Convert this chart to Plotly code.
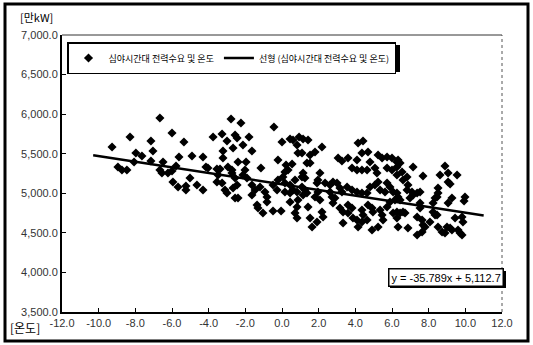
import plotly.graph_objects as go

# Night-time power demand [만kW] vs temperature [°C]
temperature = [
    -9.27, -8.29, -6.66, -7.15, -7.04, -7.97, -7.64, -8.95, -8.73, -8.46,
    -6.00, -5.35, -5.62, -4.91, -4.31, -6.66, -6.55, -6.22, -6.00, -5.95,
    -5.67, -5.24, -5.24, -5.02, -4.64, -4.31, -8.07, -7.15, -6.49, -5.78,
    -2.78, -2.24, -0.44, -3.76, -3.27, -2.56, -2.45, -3.00, -1.80, -2.13,
    -2.67, -3.22, -1.64, 0.00, 0.44, 0.60, -3.22, -2.40, -1.96, -0.22,
    0.22, 0.55, -1.15, -4.15, -4.04, -3.55, -3.38, -2.95, -2.73, -2.73,
    -2.02, -2.13, -1.91, -3.49, -3.55, -3.27, -2.56, -2.45, -2.67, -3.11,
    -3.00, -2.56, -2.40, -1.64, -1.47, -1.64, -1.20, -0.93, -0.82, -0.49,
    -0.27, -0.22, 0.05, 0.16, -1.36, -1.31, -1.04, -0.49, -0.05, -0.82,
    0.16, 0.44, 0.44, 0.16, 0.33,
    0.93, 1.15, 1.42, 0.82, 1.09, 0.87, 1.80, 1.53, 2.18, 1.36,
    1.53, 4.15, 4.42, 3.06, 3.27, 3.60, 4.36, 4.69, 4.09, 4.80,
    5.24, 5.46, 5.73, 6.00, 6.27, 3.82, 4.09, 4.36, 4.64, 5.07,
    5.18, 5.73, 6.00, 6.27, 1.15, 1.25, 1.09, 2.07, 1.96, 1.91,
    0.71, 0.44, 0.60, 0.82, 1.09, 1.25, 1.36, 1.15, 2.35, 2.62,
    2.78, 3.00, 3.16, 3.27, 2.62, 2.73, 2.89, 2.78, 3.55, 3.82,
    4.09, 4.36, 4.64, 4.80, 5.07, 5.24, 5.35, 5.62, 5.73, 5.89,
    6.06, 6.27, 0.87, 0.82, 0.71, 0.82, 1.42, 1.53, 1.64, 1.91,
    2.18, 2.24, 2.07, 3.16, 3.33, 3.33, 3.60, 3.82, 3.60, 3.87,
    4.09, 4.15, 4.36, 4.42, 4.64, 4.69, 4.91, 4.96, 4.36, 4.91,
    5.35, 5.46, 5.51, 5.24, 5.73, 5.89, 6.06, 6.27, 1.96, 1.80,
    6.33, 6.27, 6.55, 6.44, 7.15, 7.69, 6.60, 6.82, 6.87, 8.89,
    9.06, 9.55, 8.62, 9.06, 9.17, 8.51, 8.51, 8.46, 6.82, 7.09,
    7.15, 7.37, 7.53, 6.98, 6.33, 6.16, 6.44, 7.53, 7.53, 8.35,
    8.24, 9.27, 9.06, 9.98, 9.93, 6.27, 6.44, 6.60, 6.71, 7.37,
    7.64, 7.69, 7.80, 8.07, 8.24, 8.35, 8.46, 9.44, 9.82, 9.87,
    6.33, 6.87, 7.37, 7.64, 8.51, 8.73, 8.89, 9.00, 9.17, 9.27,
    9.60, 9.71, 9.82,
]
demand = [
    5585, 5711, 5951, 5660, 5534, 5509, 5471, 5332, 5294, 5294,
    5762, 5648, 5458, 5471, 5458, 5294, 5256, 5256, 5281, 5142,
    5079, 5092, 5041, 5193, 5105, 5041, 5395, 5408, 5395, 5345,
    5938, 5888, 5837, 5711, 5749, 5736, 5698, 5660, 5711, 5610,
    5572, 5534, 5534, 5648, 5686, 5673, 5446, 5395, 5395, 5420,
    5357, 5370, 5319, 5332, 5319, 5307, 5307, 5332, 5294, 5256,
    5294, 5231, 5193, 5231, 5142, 5130, 5193, 5105, 5067, 5041,
    5003, 4940, 4940, 5105, 5041, 4978, 5079, 5016, 4953, 5105,
    5041, 5168, 5206, 5130, 4852, 4814, 4751, 4776, 4776, 4890,
    5016, 5003, 4890, 5269, 5294,
    5711, 5686, 5673, 5610, 5509, 5509, 5521, 5484, 5585, 5382,
    5382, 5635, 5660, 5446, 5408, 5446, 5509, 5521, 5420, 5395,
    5484, 5446, 5458, 5446, 5395, 5319, 5294, 5294, 5294, 5319,
    5256, 5319, 5294, 5231, 5256, 5193, 5206, 5256, 5168, 5130,
    5168, 5105, 5041, 5016, 5079, 5041, 5003, 4978, 5130, 5105,
    5142, 5130, 5067, 5016, 5016, 4953, 4940, 4877, 5079, 5041,
    5016, 5003, 5003, 5079, 5105, 5142, 5041, 5016, 5130, 5079,
    5016, 5003, 4915, 4827, 4751, 4688, 4827, 4688, 4574, 4637,
    4763, 4700, 4915, 4814, 4763, 4624, 4852, 4814, 4751, 4688,
    4662, 4574, 4789, 4725, 4662, 4852, 4814, 4763, 4637, 4536,
    4789, 4725, 4662, 4574, 4827, 4890, 4751, 4688, 5016, 4953,
    5420, 5332, 5269, 5382, 5332, 5218, 5168, 5206, 5105, 5345,
    5256, 5231, 5231, 5142, 5117, 5067, 5003, 4953, 5041, 5016,
    4978, 5003, 5016, 4940, 4953, 4915, 4915, 4877, 4814, 4940,
    4877, 4940, 4877, 4953, 4902, 4763, 4751, 4763, 4751, 4700,
    4662, 4599, 4574, 4637, 4763, 4725, 4725, 4688, 4700, 4637,
    4574, 4561, 4473, 4511, 4574, 4511, 4498, 4574, 4561, 4536,
    4536, 4498, 4473,
]

# Linear trendline (as displayed): y = -35.789x + 5,112.7
trend_slope = -35.789
trend_intercept = 5112.7
trend_x = [-10.3, 11.0]
trend_y = [trend_slope * t + trend_intercept for t in trend_x]

y_ticks = [3500, 4000, 4500, 5000, 5500, 6000, 6500, 7000]
x_ticks = [-12, -10, -8, -6, -4, -2, 0, 2, 4, 6, 8, 10, 12]

scatter_name = "심야시간대 전력수요 및 온도"
trend_name = "선형 (심야시간대 전력수요 및 온도)"
equation_text = "y = -35.789x + 5,112.7"

FONT = "Arial, Liberation Sans, Noto Sans CJK KR, sans-serif"
KFONT = "Noto Sans CJK KR, sans-serif"

# plot-area geometry (px) used to place paper-referenced decorations
L, R, T, B, W, H = 62, 31, 35, 33, 533, 345
PW, PH = W - L - R, H - T - B


def px_x(p):
    return (p - L) / PW


def px_y(p):
    return (H - B - p) / PH


fig = go.Figure()
fig.add_trace(go.Scatter(
    x=temperature, y=demand, mode="markers", name=scatter_name,
    marker=dict(symbol="diamond", size=7, color="black"),
))
fig.add_trace(go.Scatter(
    x=trend_x, y=trend_y, mode="lines", name=trend_name,
    line=dict(color="black", width=2.5),
))

fig.update_layout(
    width=W, height=H,
    margin=dict(l=L, r=R, t=T, b=B),
    paper_bgcolor="white", plot_bgcolor="white",
    font=dict(family=FONT, size=11, color="#222"),
    showlegend=True,
    legend=dict(
        orientation="h", x=px_x(67), y=px_y(42), xanchor="left", yanchor="top",
        bordercolor="black", borderwidth=1.5, bgcolor="white",
        font=dict(family=KFONT, size=9, color="black"),
        itemwidth=30, tracegroupgap=0,
    ),
    xaxis=dict(
        range=[-12, 12], tickvals=x_ticks,
        ticktext=[f"{v:.1f}" for v in x_ticks],
        showgrid=False, zeroline=False,
        showline=True, linecolor="black", linewidth=2,
        ticks="inside", ticklen=4, tickcolor="black",
        tickfont=dict(size=11, color="#333"),
    ),
    yaxis=dict(
        range=[3500, 7000], tickvals=y_ticks,
        ticktext=[f"{v:,.1f}" for v in y_ticks],
        showgrid=False, zeroline=False,
        showline=True, linecolor="black", linewidth=2,
        ticks="inside", ticklen=4, tickcolor="black",
        tickfont=dict(size=11, color="#333"),
    ),
    shapes=[
        # outer chart border
        dict(type="rect", xref="paper", yref="paper",
             x0=px_x(5), x1=px_x(528), y0=px_y(341), y1=px_y(4),
             line=dict(color="black", width=3)),
        # plot area top and right border
        dict(type="line", xref="paper", yref="paper", x0=0, x1=1, y0=1, y1=1,
             line=dict(color="#333", width=1)),
        dict(type="line", xref="paper", yref="paper", x0=1, x1=1, y0=0, y1=1,
             line=dict(color="#555", width=1, dash="dot")),
        # legend drop shadow
        dict(type="rect", xref="paper", yref="paper", layer="above",
             x0=px_x(70), x1=px_x(400), y0=px_y(72), y1=px_y(45),
             fillcolor="black", line=dict(width=0)),
        # equation box drop shadow
        dict(type="rect", xref="paper", yref="paper", layer="above",
             x0=px_x(390), x1=px_x(506), y0=px_y(288), y1=px_y(271),
             fillcolor="black", line=dict(width=0)),
    ],
    annotations=[
        dict(text="[만kW]", xref="paper", yref="paper", x=px_x(18), y=px_y(17),
             xanchor="left", yanchor="middle", showarrow=False,
             font=dict(family=KFONT, size=11, color="black")),
        dict(text="[온도]", xref="paper", yref="paper", x=px_x(8), y=px_y(327),
             xanchor="left", yanchor="middle", showarrow=False,
             font=dict(family=KFONT, size=12, color="black")),
        dict(text=equation_text, xref="paper", yref="paper", x=px_x(446), y=px_y(277),
             xanchor="center", yanchor="middle", showarrow=False,
             bordercolor="black", borderwidth=1.5, bgcolor="white", borderpad=2,
             font=dict(family=FONT, size=11, color="black")),
    ],
)

fig.write_html("out.html", config={"displayModeBar": False},
               post_script="document.body.style.margin='0';")
